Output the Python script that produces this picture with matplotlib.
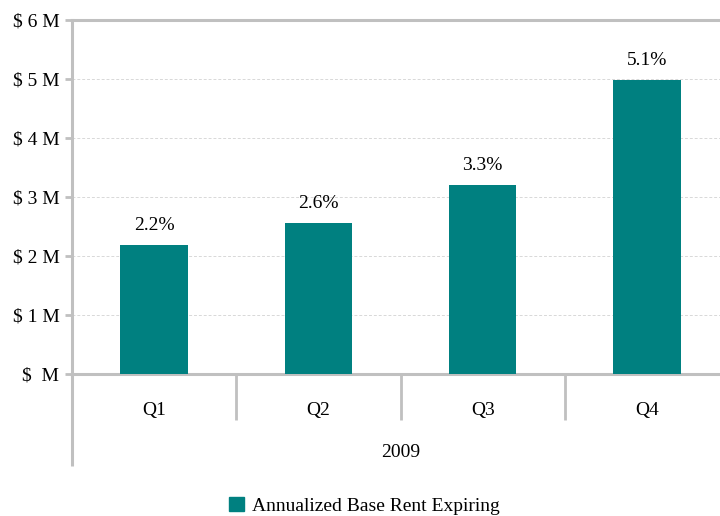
import matplotlib
matplotlib.use("Agg")
import matplotlib.pyplot as plt
from matplotlib.patches import Patch

# quarterly expiring rent, in $ millions
quarters = ["Q1", "Q2", "Q3", "Q4"]
rent_expiring = [2.19, 2.56, 3.21, 4.99]
pct_labels = ["2.2%", "2.6%", "3.3%", "5.1%"]
year_label = "2009"
ytick_labels = ["$  M", "$ 1 M", "$ 2 M", "$ 3 M", "$ 4 M", "$ 5 M", "$ 6 M"]

teal = "#008080"
gray = "#c0c0c0"

plt.rcParams["font.family"] = ["Liberation Serif", "DejaVu Serif"]
plt.rcParams["font.size"] = 14

fig = plt.figure(figsize=(7.2, 5.16), dpi=100)
ax = fig.add_axes([0.1, 0.2746, 0.9125, 0.686])

x = range(len(quarters))
ax.bar(x, rent_expiring, width=0.41, color=teal, zorder=3)
for xi, v, lab in zip(x, rent_expiring, pct_labels):
    ax.annotate(lab, (xi, v), xytext=(0, 8), textcoords="offset points",
                ha="center", va="bottom", fontsize=14)

ax.set_xlim(-0.5, len(quarters) - 0.5)
ax.set_ylim(0, 6)
ax.set_yticks(range(7))
ax.set_yticklabels(ytick_labels)

# dashed grid between top and bottom
for y in range(1, 6):
    ax.axhline(y, color="#d8d8d8", lw=0.7, ls=(0, (3, 2)), zorder=1)

ax.spines["right"].set_visible(False)
for side in ["top", "bottom", "left"]:
    ax.spines[side].set_color(gray)
    ax.spines[side].set_linewidth(2.2)

ax.tick_params(axis="y", length=5, width=2, color=gray, pad=4)
ax.set_xticks(list(x))
ax.set_xticklabels(quarters)
ax.tick_params(axis="x", which="major", length=0, pad=20)
ax.set_xticks([0.5, 1.5, 2.5], minor=True)
ax.tick_params(axis="x", which="minor", length=33, width=2, color=gray)

# left axis runs down past the group label row
ax.plot([0, 0], [0, -0.258], transform=ax.transAxes, color=gray,
        lw=2.2, clip_on=False, solid_capstyle="butt")
ax.text(0.5, -0.222, year_label, transform=ax.transAxes, ha="center",
        va="center", fontsize=14)

fig.legend(handles=[Patch(color=teal, label="Annualized Base Rent Expiring")],
           loc="center", bbox_to_anchor=(0.506, 0.02), frameon=False,
           handlelength=0.75, handleheight=0.75, handletextpad=0.4, fontsize=14)

fig.savefig("out.png", dpi=100)
